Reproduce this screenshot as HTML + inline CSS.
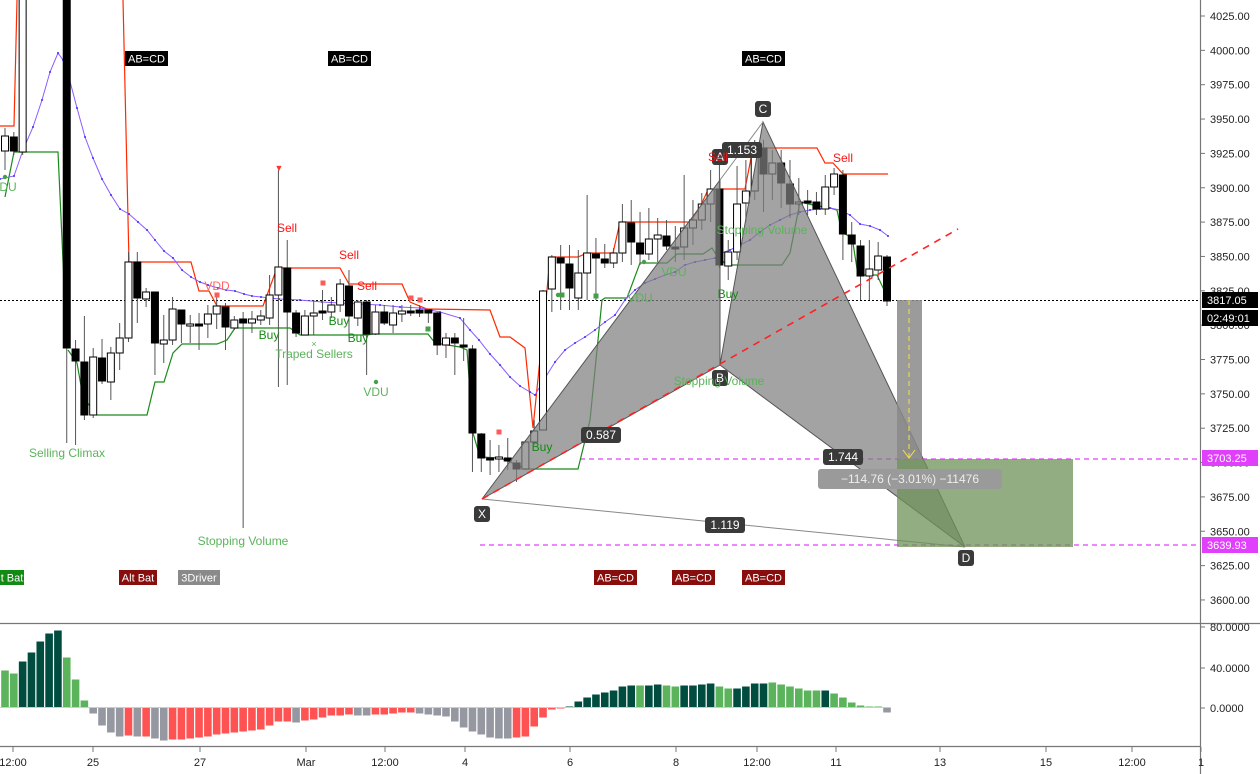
<!DOCTYPE html>
<html><head><meta charset="utf-8">
<style>
html,body{margin:0;padding:0;background:#fff;width:1260px;height:774px;overflow:hidden}
svg{display:block;font-family:"Liberation Sans",sans-serif}
</style></head>
<body>
<svg id="c" width="1260" height="774" xmlns="http://www.w3.org/2000/svg">
<rect width="1260" height="774" fill="#fff"/>
<g id="lines"></g>
<g id="cand"></g>
<g id="pat"></g>
<g id="hist"></g>
<g id="ann"></g>
</svg>
<script>
const NS="http://www.w3.org/2000/svg";
function el(p,t,a,txt){const e=document.createElementNS(NS,t);for(const k in a)e.setAttribute(k,a[k]);if(txt!==undefined)e.textContent=txt;document.getElementById(p).appendChild(e);return e;}
const X=i=>5+8.82*i;
// pattern
el('pat','polygon',{points:"482,499 720,180 720,365",fill:"#808080","fill-opacity":"0.72",stroke:"#555","stroke-width":"1"});
el('pat','polygon',{points:"720,365 763,122 965,547",fill:"#808080","fill-opacity":"0.72",stroke:"#555","stroke-width":"1"});
el('pat','line',{x1:482,y1:499,x2:965,y2:547,stroke:"#888","stroke-width":1});
el('pat','line',{x1:720,y1:180,x2:763,y2:122,stroke:"#888","stroke-width":1});
el('pat','line',{x1:482,y1:499,x2:958,y2:229,stroke:"#f22","stroke-width":1.6,"stroke-dasharray":"7,6"});
// position tool
el('pat','rect',{x:897,y:300,width:25,height:159,fill:"#8a8a8a","fill-opacity":"0.85"});
el('pat','rect',{x:897,y:459,width:176,height:88,fill:"#6f9158","fill-opacity":"0.75"});
el('pat','line',{x1:909,y1:300,x2:909,y2:459,stroke:"#f5e342","stroke-width":1,"stroke-dasharray":"5,4"});
el('pat','polyline',{points:"903,450 909,458 915,450",fill:"none",stroke:"#f5e342","stroke-width":1});
// dashed lines
el('lines','line',{x1:0,y1:300.5,x2:1200,y2:300.5,stroke:"#000","stroke-width":1,"stroke-dasharray":"2,2"});
el('lines','line',{x1:580,y1:459,x2:1200,y2:459,stroke:"#e040fb","stroke-width":1.2,"stroke-dasharray":"5,4"});
el('lines','line',{x1:480,y1:545,x2:1200,y2:545,stroke:"#e040fb","stroke-width":1.2,"stroke-dasharray":"5,4"});
// red resistance
el('lines','polyline',{points:"0,126 14,126 17,0",fill:"none",stroke:"#ff2a00","stroke-width":1.2});
el('lines','polyline',{points:"123,0 129,262 191,262 199,291 209,291 217,306 263,306 277,268 340,268 349,284 402,284 410,302 427,309 490,310 500,337 510,337 525,348 533,428 547,290 550,257 578,257 587,253 613,253 620,222 690,222 700,207 708,190 720,189 745,189 753,148 817,148 825,163 833,163 843,174 888,174",fill:"none",stroke:"#ff2a00","stroke-width":1.2});
// green support
el('lines','polyline',{points:"5,197 14,152 58,152 64,283",fill:"none",stroke:"#1a8a1a","stroke-width":1.2});
el('lines','polyline',{points:"68,350 77,363 83,397 97,415 147,415 155,382 164,382 173,353 182,344 217,344 227,340 235,328 290,328 300,335 367,335 373,334 428,334 435,343 460,347 467,350 473,433 480,457 500,458 510,462 527,469 578,469 590,420 602,300 605,298 627,298 640,263 667,263 677,254 703,254 712,248 717,256 727,265 782,265 790,253 800,202 813,205 830,208 837,210 842,233 852,237 858,275 877,275 885,292",fill:"none",stroke:"#1a8a1a","stroke-width":1.2});
// EMA
const ema=[[0,179],[14,176],[23,150],[33,127],[42,100],[50,72],[58,53],[63,60],[67,70],[77,108],[85,137],[93,158],[102,179],[111,195],[120,209],[129,214],[138,222],[147,230],[155,240],[164,251],[173,258],[182,270],[191,277],[200,282],[208,285],[218,288],[226,290],[235,291],[244,294],[252,296],[261,297],[270,298],[279,299],[300,300],[322,302],[340,303],[360,304],[380,305],[400,307],[420,308],[440,312],[460,318],[470,330],[479,340],[490,354],[500,365],[510,377],[520,386],[530,392],[535,395],[545,378],[555,362],[565,350],[575,343],[585,337],[595,330],[605,322],[615,315],[625,300],[635,290],[645,283],[655,279],[665,275],[675,272],[685,265],[695,262],[705,260],[715,258],[722,253],[730,250],[740,245],[750,240],[760,232],[770,225],[780,220],[790,215],[800,212],[810,210],[820,209],[830,208],[840,210],[850,215],[860,224],[870,226],[880,230],[888,236]];
el('lines','polyline',{points:ema.map(p=>p.join(',')).join(' '),fill:"none",stroke:"#8c5cff","stroke-width":1});
ema.forEach(p=>el('lines','circle',{cx:p[0],cy:p[1],r:1,fill:"#3a2cff"}));
const C=[[0,151,136,128,170],[1,137,151,132,155],[2,152,-5,-5,155],[7,-5,348,-5,443],[8,349,361,340,445],[9,362,415,316,420],[10,415,357,348,418],[11,358,381,339,384],[12,382,353,347,400],[13,353,338,323,370],[14,338,262,252,342],[15,262,298,252,323],[16,299,292,288,307],[17,292,343,292,375],[18,344,340,315,363],[19,340,309,297,345],[20,310,324,310,343],[21,325,324,315,343],[22,324,326,313,350],[23,324,314,305,338],[24,314,306,293,329],[25,307,327,303,350],[26,328,320,316,330],[27,319,323,312,528],[28,323,319,311,333],[29,320,316,310,325],[30,318,295,275,325],[31,295,267,170,387],[32,268,312,240,385],[33,313,333,310,337],[34,335,316,310,335],[35,316,313,300,335],[36,311,313,290,320],[37,312,305,297,318],[38,305,284,279,312],[39,286,316,270,338],[40,318,302,300,326],[41,302,334,300,375],[42,334,312,305,335],[43,312,323,305,325],[44,325,313,305,333],[45,314,311,305,322],[46,311,313,305,316],[47,310,313,305,317],[48,310,313,310,323],[49,313,345,312,355],[50,345,338,333,358],[51,338,343,333,375],[52,345,347,318,361],[53,349,433,345,472],[54,434,458,433,472],[55,458,460,440,475],[56,459,457,445,472],[57,458,461,438,470],[58,463,469,460,482],[59,469,442,440,470],[60,442,431,420,445],[61,430,291,290,430],[62,289,257,255,312],[63,258,263,245,310],[64,264,288,245,310],[65,298,273,250,310],[66,273,253,195,300],[67,254,258,238,300],[68,259,263,244,268],[69,263,253,248,268],[70,253,222,204,262],[71,223,242,200,265],[72,243,254,212,265],[73,254,239,208,260],[74,239,235,218,262],[75,236,246,220,250],[76,247,247,226,262],[77,247,228,175,260],[78,228,220,200,245],[79,220,204,193,230],[80,204,189,170,222],[81,189,265,165,268],[82,266,252,240,280],[83,252,204,166,260],[84,203,191,160,222],[85,191,148,140,200],[86,148,174,140,212],[87,174,163,150,200],[88,163,183,150,208],[89,184,204,160,218],[90,204,202,178,215],[91,201,202,190,215],[92,202,209,192,215],[93,209,187,175,215],[94,187,174,168,195],[95,175,234,170,260],[96,235,244,222,262],[97,246,276,240,300],[98,276,269,240,300],[99,270,256,242,280],[100,257,301,255,306]];
C.forEach(c=>{const x=X(c[0]);const up=c[2]<c[1];
el('cand','line',{x1:x,y1:c[3],x2:x,y2:c[4],stroke:"#555","stroke-width":1});
const t=Math.min(c[1],c[2]),h=Math.max(2,Math.abs(c[2]-c[1]));
el('cand','rect',{x:x-3.5,y:t,width:7,height:h,fill:up?"#fff":"#000",stroke:"#000","stroke-width":1});});
const D="#004d40",L="#5bb35b",G="#9598a1",R="#ff5252";
const pos1=[[37,L],[34,L],[46,D],[55,D],[66,D],[74,D],[77,D],[50,L],[28,L],[7,L]];
const negv=[6,18,25,29,28,29,29,31,33,32,32,31,30,29,27,26,25,24,23,22,18,14,14,15,13,12,10,8,8,7,8,8,7,7,6,5,5,6,7,8,9,14,20,24,27,30,31,31,30,29,19,10,2,1];
const negc=[G,G,G,G,R,G,R,G,G,R,R,R,R,R,R,R,R,R,R,R,R,R,R,G,R,R,R,R,R,R,G,G,R,R,R,R,R,G,G,G,G,G,G,G,G,G,G,G,R,R,R,R,R,R];
const pos2=[[1,D],[6,D],[10,D],[13,D],[15,D],[17,D],[21,D],[22,D],[22,L],[22,D],[23,D],[22,L],[21,L],[22,D],[22,D],[23,D],[24,D],[21,L],[19,L],[19,D],[21,D],[24,D],[24,D],[25,L],[23,L],[21,L],[19,L],[17,L],[17,L],[17,D],[14,L],[10,L],[5,L],[2,L],[1,L],[1,L]];
const Z=707.5;let idx=0;
const bar=(i,h,col)=>{const x=X(i)-3.8;if(h>=0)el('hist','rect',{x:x,y:Z-h,width:7.6,height:h,fill:col});else el('hist','rect',{x:x,y:Z,width:7.6,height:-h,fill:col});};
pos1.forEach(b=>bar(idx++,b[0],b[1]));
negv.forEach((v,k)=>bar(idx++,-v,negc[k]));
idx=64;pos2.forEach(b=>bar(idx++,b[0],b[1]));
bar(100,-5,G);
el('hist','line',{x1:0,y1:Z,x2:890,y2:Z,stroke:"#ccc","stroke-width":1});
el('ann','line',{x1:0,y1:623.5,x2:1260,y2:623.5,stroke:"#777","stroke-width":1.2});
el('ann','line',{x1:0,y1:746.5,x2:1200,y2:746.5,stroke:"#777","stroke-width":1.2});
el('ann','line',{x1:1200.5,y1:0,x2:1200.5,y2:774,stroke:"#777","stroke-width":1.2});
for(let p=4025,k=0;p>=3600;p-=25,k++){const y=16+k*34.35;
el('ann','line',{x1:1200,y1:y,x2:1205,y2:y,stroke:"#777"});
el('ann','text',{x:1210,y:y+4,"font-size":"11",fill:"#222"},p.toFixed(2));}
[[627,"80.0000"],[668,"40.0000"],[708,"0.0000"]].forEach(a=>{el('ann','line',{x1:1200,y1:a[0],x2:1205,y2:a[0],stroke:"#777"});el('ann','text',{x:1210,y:a[0]+4,"font-size":"11",fill:"#222"},a[1]);});
[[13,"12:00"],[93,"25"],[200,"27"],[306,"Mar"],[385,"12:00"],[465,"4"],[570,"6"],[676,"8"],[757,"12:00"],[836,"11"],[940,"13"],[1046,"15"],[1132,"12:00"],[1201,"1"]].forEach(a=>{
el('ann','line',{x1:a[0],y1:747,x2:a[0],y2:752,stroke:"#777"});
el('ann','text',{x:a[0],y:766,"font-size":"11",fill:"#222","text-anchor":"middle"},a[1]);});
function tag(y,txt,bg,fg){el('ann','rect',{x:1202,y:y-8,width:56,height:16,fill:bg});el('ann','text',{x:1207,y:y+4,"font-size":"11",fill:fg},txt);}
tag(300,"3817.05","#000","#fff");tag(318,"02:49:01","#000","#fff");tag(458,"3703.25","#e040fb","#fff");tag(545,"3639.93","#e040fb","#fff");
function box(x,y,w,h,txt,bg,fg,fs,rx){el('ann','rect',{x:x,y:y,width:w,height:h,fill:bg,rx:rx||0});el('ann','text',{x:x+w/2,y:y+h/2+4,"font-size":fs||11,fill:fg||"#fff","text-anchor":"middle"},txt);}
box(125,51,43,15,"AB=CD","#000");box(328,51,43,15,"AB=CD","#000");box(742,51,43,15,"AB=CD","#000");
box(594,570,43,15,"AB=CD","#880e0e");box(672,570,43,15,"AB=CD","#880e0e");box(742,570,43,15,"AB=CD","#880e0e");
box(119,570,38,15,"Alt Bat","#880e0e");box(178,570,42,15,"3Driver","#8a8a8a");box(0,570,24,15,"t Bat","#138a13");
box(474,506,16,16,"X","#3a3a3a","#fff",12,3);box(712,370,16,16,"B","#3a3a3a","#fff",12,3);box(755,101,16,16,"C","#3a3a3a","#fff",12,3);box(712,149,16,16,"A","#3a3a3a","#fff",12,3);box(958,550,16,16,"D","#3a3a3a","#fff",12,3);
box(581,427,40,16,"0.587","#3a3a3a","#fff",12,3);box(823,449,40,16,"1.744","#3a3a3a","#fff",12,3);box(705,517,40,16,"1.119","#3a3a3a","#fff",12,3);box(722,142,40,16,"1.153","#3a3a3a","#fff",12,3);
box(818,469,184,20,"−114.76 (−3.01%) −11476","#9a9a9a","#eee",12,3);
function tx(x,y,t,c,fs){el('ann','text',{x:x,y:y,"font-size":fs||12,fill:c,"text-anchor":"middle"},t);}
const lg="#5bb35b",dg="#138a13",rd="#f11";
tx(67,457,"Selling Climax",lg);tx(243,545,"Stopping Volume",lg);tx(376,396,"VDU",lg);tx(314,358,"Traped Sellers",lg);tx(217,290,"VDD","#f66");
tx(8,191,"DU",lg);tx(674,276,"VDU",lg);tx(640,302,"VDU",lg);tx(762,234,"Stopping Volume",lg);tx(719,385,"Stopping Volume",lg);
[[287,232],[349,259],[367,290],[718,161],[843,162]].forEach(p=>tx(p[0],p[1],"Sell",rd));
[[269,339],[339,325],[358,342],[542,451],[728,298]].forEach(p=>tx(p[0],p[1],"Buy",dg));
[[5,177],[376,382],[644,262],[558,295],[596,296]].forEach(p=>el('ann','circle',{cx:p[0],cy:p[1],r:2.2,fill:"#43a047"}));
[[217,295],[323,283],[411,298],[420,300],[499,432]].forEach(p=>el('ann','rect',{x:p[0]-2.5,y:p[1]-2.5,width:5,height:5,fill:"#ff5a5a"}));
[[428,329],[596,296],[562,295]].forEach(p=>el('ann','rect',{x:p[0]-2.5,y:p[1]-2.5,width:5,height:5,fill:"#43a047"}));
el('ann','text',{x:279,y:171,"font-size":"9",fill:"#f33","text-anchor":"middle"},"▼");
el('ann','text',{x:314,y:347,"font-size":"9",fill:"#5bb35b","text-anchor":"middle"},"×");
</script>
</body></html>
